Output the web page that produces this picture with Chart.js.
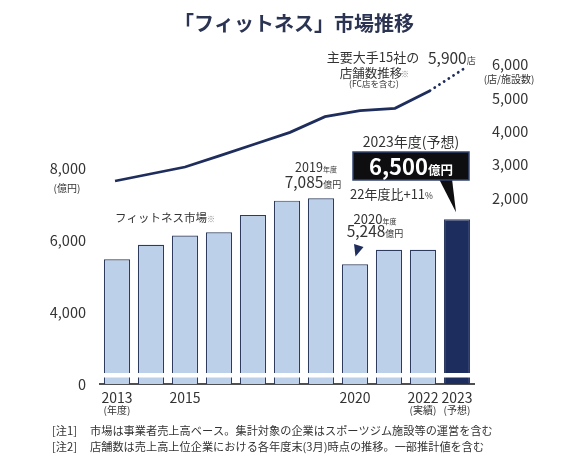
<!DOCTYPE html>
<html lang="ja">
<head>
<meta charset="UTF-8">
<title>「フィットネス」市場推移</title>
<script src="https://cdn.jsdelivr.net/npm/chart.js"></script>
<style>
  body { margin: 0; background: #fff; }
  #wrap { width: 561px; height: 463px; }
</style>
</head>
<body>
<div id="wrap"><canvas id="fitChart" width="561" height="463"></canvas></div>
<script>
// data
const years = [2013, 2014, 2015, 2016, 2017, 2018, 2019, 2020, 2021, 2022, 2023];
const yearLabels = ['2013', '', '2015', '', '', '', '', '2020', '', '2022', '2023'];
const subLabels = ['(年度)', '', '', '', '', '', '', '', '', '(実績)', '(予想)'];
const marketValues = [5390, 5790, 6050, 6140, 6620, 7020, 7085, 5248, 5650, 5650, 6500]; // 億円
const storeCounts = [2510, 2720, 2930, 3270, 3620, 3970, 4440, 4620, 4690, 5220, 5900]; // 店
const leftTickValues = [2000, 4000, 6000, 8000];   // bottom of the broken axis is shown as 0
const leftTickLabels = ['0', '4,000', '6,000', '8,000'];
const rightTickValues = [2000, 3000, 4000, 5000, 6000];

const FONT = '"Noto Sans CJK JP", "Noto Sans", sans-serif';
const NAVY = '#1e2d5c';
const TEXT = '#333333';

// text run with mixed sizes on one baseline
function run(ctx, x, y, parts, align) {
  let w = 0;
  parts.forEach(p => {
    ctx.font = (p[2] || 'normal') + ' ' + p[1] + 'px ' + FONT;
    w += ctx.measureText(p[0]).width;
  });
  let cx = align === 'center' ? x - w / 2 : (align === 'right' ? x - w : x);
  ctx.textAlign = 'left';
  ctx.textBaseline = 'alphabetic';
  parts.forEach(p => {
    ctx.font = (p[2] || 'normal') + ' ' + p[1] + 'px ' + FONT;
    ctx.fillText(p[0], cx, y);
    cx += ctx.measureText(p[0]).width;
  });
}

const breakBand = {
  id: 'breakBand',
  afterDatasetsDraw(chart) {
    const ctx = chart.ctx;
    ctx.save();
    ctx.fillStyle = '#ffffff';
    ctx.fillRect(96, 373, 384, 4.5);
    ctx.restore();
  }
};

const annotations = {
  id: 'annotations',
  afterDraw(chart) {
    const ctx = chart.ctx;
    const x = chart.scales.x;
    const y = chart.scales.y;
    ctx.save();

    // title
    ctx.fillStyle = '#2b3452';
    run(ctx, 294, 31, [['「フィットネス」市場推移', 20, 'bold']], 'center');

    ctx.fillStyle = TEXT;
    // axis units
    run(ctx, 67, 192, [['(億円)', 10]], 'center');
    run(ctx, 509, 83, [['(店/施設数)', 10]], 'center');

    // x sub labels
    subLabels.forEach((s, i) => {
      if (s) run(ctx, x.getPixelForValue(i), 414, [[s, 10]], 'center');
    });

    // series labels
    run(ctx, 115, 222, [['フィットネス市場', 11.5]], 'left');
    ctx.fillStyle = '#888';
    run(ctx, 207, 222, [['※', 8]], 'left');
    ctx.fillStyle = TEXT;

    run(ctx, 373, 62, [['主要大手15社の', 13]], 'center');
    run(ctx, 371, 78, [['店舗数推移', 12.5]], 'center');
    ctx.fillStyle = '#888';
    run(ctx, 401, 77, [['※', 8]], 'left');
    ctx.fillStyle = TEXT;
    run(ctx, 374, 87, [['(FC店を含む)', 8.5]], 'center');
    run(ctx, 428, 64, [['5,900', 15.5], ['店', 9]], 'left');

    // 2019 / 2020 labels
    run(ctx, 316, 172, [['2019', 12.5], ['年度', 7]], 'center');
    run(ctx, 313, 188, [['7,085', 15.5], ['億円', 9]], 'center');
    run(ctx, 375, 224, [['2020', 13], ['年度', 7]], 'center');
    run(ctx, 375, 237, [['5,248', 15.5], ['億円', 9]], 'center');
    ctx.fillStyle = NAVY;
    ctx.beginPath();
    ctx.moveTo(354, 244);
    ctx.lineTo(363.5, 247);
    ctx.lineTo(355.5, 256.5);
    ctx.closePath();
    ctx.fill();

    // 2023 forecast callout
    ctx.fillStyle = TEXT;
    run(ctx, 411, 147, [['2023年度(予想)', 14]], 'center');
    const tipX = x.getPixelForValue(10) - 1;
    const tipY = y.getPixelForValue(marketValues[10]) - 7;
    ctx.fillStyle = '#0e0e10';
    ctx.beginPath();
    ctx.moveTo(439, 179);
    ctx.lineTo(452, 179);
    ctx.lineTo(tipX, tipY);
    ctx.closePath();
    ctx.fill();
    ctx.fillRect(353, 152, 116, 28);
    ctx.strokeStyle = '#34446e';
    ctx.lineWidth = 1.5;
    ctx.strokeRect(353, 152, 116, 28);
    ctx.fillStyle = '#ffffff';
    run(ctx, 411, 175, [['6,500', 22, 'bold'], ['億円', 12.5, 'bold']], 'center');
    ctx.fillStyle = TEXT;
    run(ctx, 350, 199, [['22年度比+11', 13], ['%', 8.5]], 'left');

    // notes
    run(ctx, 52, 435, [['[注1]', 11.2]], 'left');
    run(ctx, 90, 435, [['市場は事業者売上高ベース。集計対象の企業はスポーツジム施設等の運営を含む', 11.2]], 'left');
    run(ctx, 52, 451, [['[注2]', 11.2]], 'left');
    run(ctx, 90, 451, [['店舗数は売上高上位企業における各年度末(3月)時点の推移。一部推計値を含む', 11.2]], 'left');

    ctx.restore();
  }
};

new Chart(document.getElementById('fitChart'), {
  type: 'bar',
  data: {
    labels: years.map(String),
    datasets: [
      {
        type: 'line',
        label: '主要大手15社の店舗数推移',
        data: years.map((yr, i) => ({ x: yr, y: storeCounts[i] })),
        xAxisID: 'x2',
        yAxisID: 'yR',
        borderColor: NAVY,
        borderWidth: 2.8,
        pointRadius: 0,
        tension: 0,
        fill: false,
        segment: {
          borderDash: c => c.p1DataIndex === years.length - 1 ? [0.1, 5.5] : undefined,
          borderCapStyle: c => c.p1DataIndex === years.length - 1 ? 'round' : 'butt'
        }
      },
      {
        label: 'フィットネス市場',
        data: marketValues,
        xAxisID: 'x',
        yAxisID: 'y',
        backgroundColor: years.map((yr, i) => i === years.length - 1 ? '#1c2d5e' : '#bdd0ea'),
        borderColor: '#2d3b5e',
        borderWidth: 1.2,
        grouped: false,
        barPercentage: 0.77,
        categoryPercentage: 1
      }
    ]
  },
  options: {
    responsive: false,
    animation: false,
    layout: { padding: { top: 50, left: 0, right: 0, bottom: 0 } },
    plugins: {
      legend: { display: false },
      tooltip: { enabled: false }
    },
    scales: {
      x: {
        type: 'category',
        grid: { display: false, drawTicks: false },
        border: { display: true, color: '#505050', width: 2 },
        ticks: {
          autoSkip: false,
          maxRotation: 0,
          padding: 5,
          color: TEXT,
          font: { family: FONT, size: 14 },
          callback: (v, i) => yearLabels[i]
        },
        afterFit: s => { s.height = 79; }
      },
      x2: {
        type: 'linear',
        display: false,
        offset: false,
        min: 2012.571,
        max: 2023.257
      },
      y: {
        type: 'linear',
        position: 'left',
        min: 1916.6,
        max: 11212.5,
        grid: { display: false, drawTicks: false },
        border: { display: false },
        ticks: {
          padding: 14,
          labelOffset: 3,
          color: TEXT,
          font: { family: FONT, size: 14.5 },
          callback: v => leftTickLabels[leftTickValues.indexOf(v)]
        },
        afterBuildTicks: s => { s.ticks = leftTickValues.map(v => ({ value: v })); },
        afterFit: s => { s.width = 100; }
      },
      yR: {
        type: 'linear',
        position: 'right',
        min: -3580,
        max: 6440,
        grid: { display: false, drawTicks: false },
        border: { display: false },
        ticks: {
          padding: 18,
          color: TEXT,
          font: { family: FONT, size: 14.5 },
          callback: v => v.toLocaleString('en-US')
        },
        afterBuildTicks: s => { s.ticks = rightTickValues.map(v => ({ value: v })); },
        afterFit: s => { s.width = 87; }
      }
    }
  },
  plugins: [breakBand, annotations]
});
</script>
</body>
</html>
